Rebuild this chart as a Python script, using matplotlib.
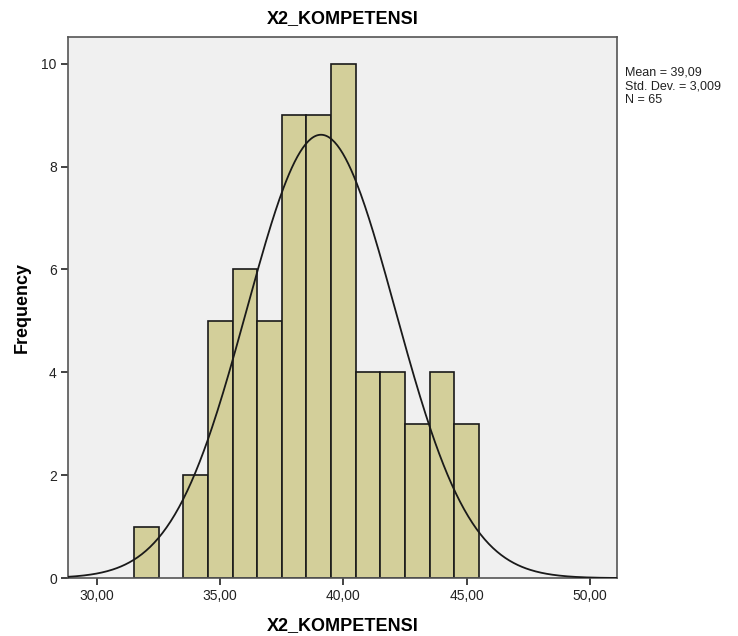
import numpy as np
import matplotlib
matplotlib.use("Agg")
import matplotlib.pyplot as plt

bin_left = [31.5, 32.5, 33.5, 34.5, 35.5, 36.5, 37.5, 38.5, 39.5, 40.5, 41.5, 42.5, 43.5, 44.5]
counts = [1, 0, 2, 5, 6, 5, 9, 9, 10, 4, 4, 3, 4, 3]
bin_width = 1.0
mean = 39.09
std = 3.009
n = 65
x_ticks = [30, 35, 40, 45, 50]
x_tick_labels = ["30,00", "35,00", "40,00", "45,00", "50,00"]
y_ticks = [0, 2, 4, 6, 8, 10]

plt.rcParams['font.family'] = ['Liberation Sans', 'DejaVu Sans']

fig = plt.figure(figsize=(7.38, 6.36), dpi=100)
ax = fig.add_axes([0.092, 0.091, 0.744, 0.851])
ax.set_facecolor('#f0f0f0')

for left, c in zip(bin_left, counts):
    if c > 0:
        ax.bar(left, c, width=bin_width, align='edge', color='#d3cf9a',
               edgecolor='#1a1a1a', linewidth=1.2, zorder=2)

xs = np.linspace(28.8, 51.1, 400)
ys = n * bin_width / (std * np.sqrt(2 * np.pi)) * np.exp(-0.5 * ((xs - mean) / std) ** 2)
ax.plot(xs, ys, color='#1a1a1a', linewidth=1.3, zorder=3)

ax.set_xlim(28.82, 51.1)
ax.set_ylim(0, 10.52)
ax.set_xticks(x_ticks)
ax.set_xticklabels(x_tick_labels)
ax.set_yticks(y_ticks)
ax.tick_params(direction='out', length=5, width=1.2, labelsize=10, colors='#222222', pad=3)
for s in ax.spines.values():
    s.set_color('#555555')
    s.set_linewidth(1.2)

ax.set_title("X2_KOMPETENSI", fontsize=13, fontweight='bold', pad=10)
ax.set_xlabel("X2_KOMPETENSI", fontsize=13, fontweight='bold', labelpad=10)
ax.set_ylabel("Frequency", fontsize=13, fontweight='bold', labelpad=8)

fig.text(0.847, 0.895, "Mean = 39,09\nStd. Dev. = 3,009\nN = 65", fontsize=9,
         va='top', ha='left', linespacing=1.2, color='#222222')

fig.savefig("out.png", dpi=100, facecolor='white')
